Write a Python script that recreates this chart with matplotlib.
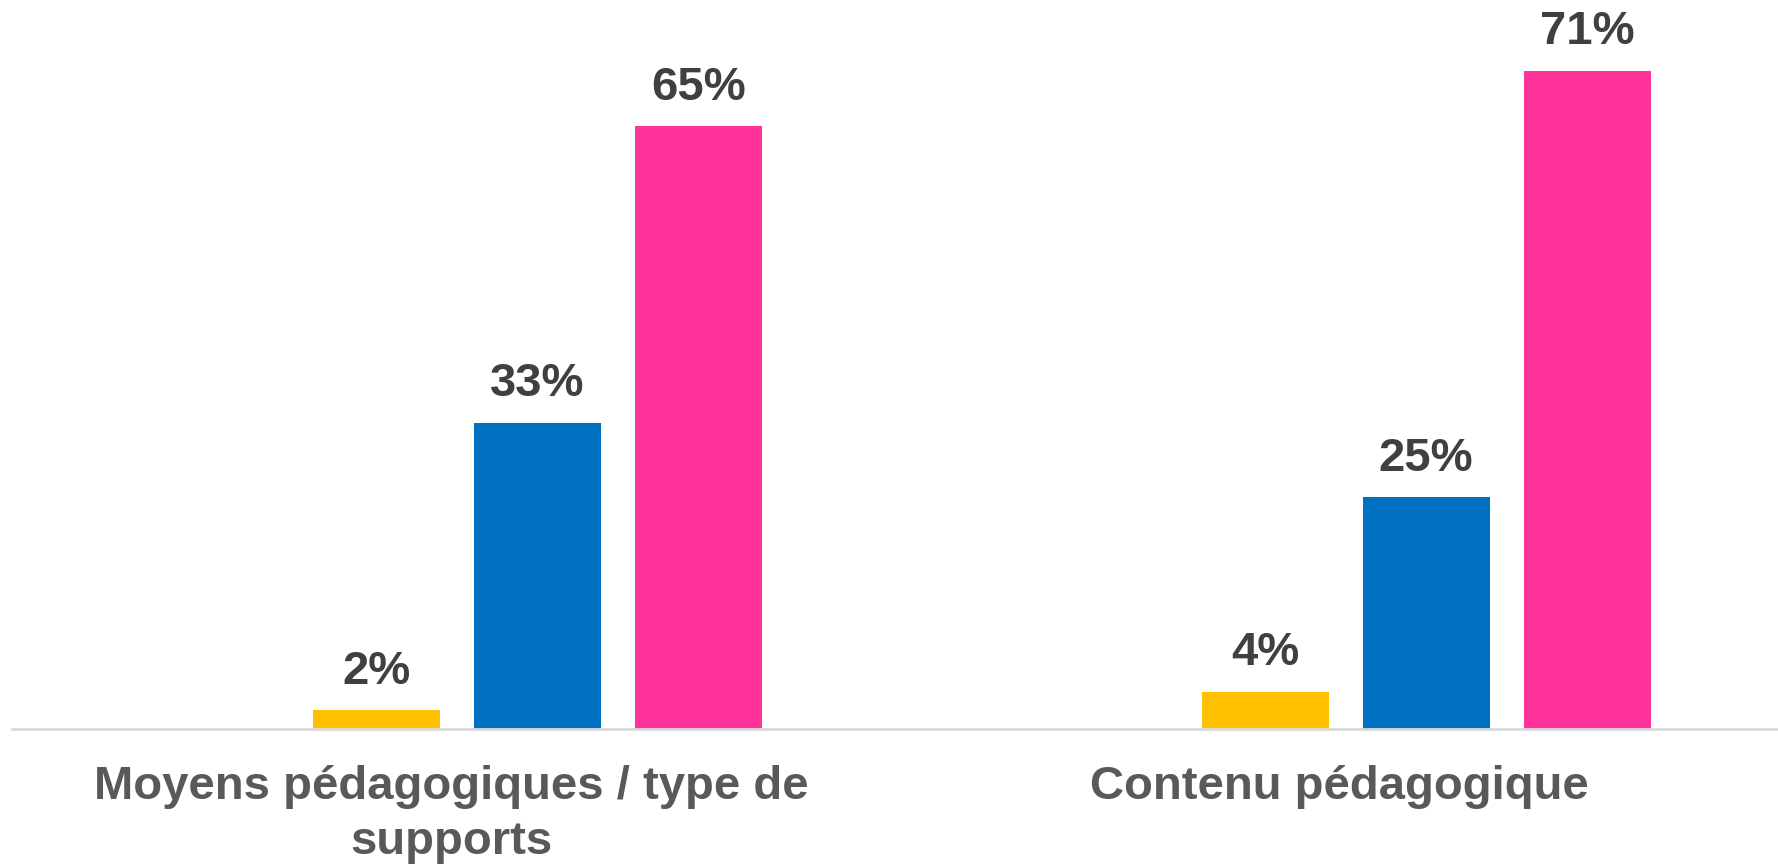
import matplotlib
matplotlib.use("Agg")
import matplotlib.pyplot as plt
import numpy as np

plt.rcParams['font.family'] = ['Liberation Sans', 'DejaVu Sans']

categories = ["Moyens pédagogiques / type de\nsupports", "Contenu pédagogique"]
series_names = ["Série 2", "Série 3", "Série 4"]
yellow_vals = [2, 4]
blue_vals = [33, 25]
pink_vals = [65, 71]
colors = ["#FFC000", "#0070C0", "#FF3399"]

W, H = 1778, 864
fig = plt.figure(figsize=(W / 100, H / 100), dpi=100)
ax = fig.add_axes([12 / W, (H - 729) / H, 1 - 12 / W, 729 / H])

x = np.arange(len(categories))
slot = 0.1812
width = 0.143
# four slots per category; the first slot is empty in the reference
offsets = [(k - 1.4625) * slot for k in (1, 2, 3)]
for vals, off, col, name in zip([yellow_vals, blue_vals, pink_vals], offsets, colors, series_names):
    bars = ax.bar(x + off, vals, width=width, color=col, label=name, zorder=2)
    for b, v in zip(bars, vals):
        ax.annotate(f"{v}%", (b.get_x() + b.get_width() / 2, b.get_height()),
                    xytext=(0, 12), textcoords="offset points", ha="center", va="bottom",
                    fontsize=34, fontweight="bold", color="#404040")

ax.set_xlim(-0.4941, 1.4935)
ax.set_ylim(0, 729 / 9.27)
ax.set_xticks(x)
ax.set_xticklabels(categories, fontsize=34, fontweight="bold", color="#595959", linespacing=1.32)
ax.tick_params(axis="x", length=0, pad=26)
ax.set_yticks([])
for s in ["top", "right", "left"]:
    ax.spines[s].set_visible(False)
ax.spines["bottom"].set_color("#D9D9D9")
ax.spines["bottom"].set_linewidth(2)

fig.savefig("out.png", dpi=100, facecolor="white")
